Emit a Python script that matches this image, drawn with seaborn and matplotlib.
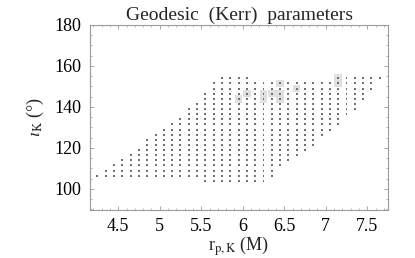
import numpy as np
import pandas as pd
import matplotlib
matplotlib.use("Agg")
import matplotlib.pyplot as plt
from matplotlib.ticker import MultipleLocator
import seaborn as sns

# ---- data: grid rows (inclination value, first and last r_p of each run of points)
seg_y = [104, 106.5, 109, 111.5, 114, 116.5, 119, 121.5, 124, 126.5, 129,
         131.5, 134, 136.5, 139, 141.5, 144, 146.5, 149, 151.5, 154, 154]
seg_start = [5.55, 4.25, 4.35, 4.45, 4.55, 4.65, 4.75, 4.85, 4.85, 4.95, 5.05,
             5.15, 5.25, 5.35, 5.35, 5.45, 5.55, 5.55, 5.65, 5.65, 5.75, 7.15]
seg_end = [6.25, 6.35, 6.35, 6.45, 6.55, 6.65, 6.75, 6.85, 6.85, 6.95, 7.05,
           7.15, 7.15, 7.25, 7.35, 7.35, 7.45, 7.45, 7.55, 7.55, 6.05, 7.65]
grid_step = 0.1

# highlighted grid points
hl_x = [7.15, 6.45, 7.15, 6.65, 6.05, 6.25, 6.35, 6.45, 5.95, 6.25, 6.45]
hl_y = [154, 151.5, 151.5, 149, 146.5, 146.5, 146.5, 146.5, 144, 144, 144]

x_ticks = [4.5, 5, 5.5, 6, 6.5, 7, 7.5]
x_ticklabels = ["4.5", "5", "5.5", "6", "6.5", "7", "7.5"]
y_ticks = [100, 120, 140, 160, 180]

# build point table
xs, ys = [], []
for y, a, b in zip(seg_y, seg_start, seg_end):
    n = int(round((b - a) / grid_step)) + 1
    for i in range(n):
        xs.append(round(a + i * grid_step, 3))
        ys.append(y)
pts = pd.DataFrame({"r": xs, "i": ys})
hl = pd.DataFrame({"r": hl_x, "i": hl_y})

sns.set_theme(style="white")
plt.rcParams["font.family"] = ["Liberation Serif", "DejaVu Serif"]
plt.rcParams["mathtext.fontset"] = "stix"

fig = plt.figure(figsize=(4.15, 2.58), dpi=100)
ax = fig.add_axes([90 / 415, 1 - 209.5 / 258, 298 / 415, 184.5 / 258])

sns.scatterplot(data=hl, x="r", y="i", marker="s", s=30, color="#e0e0e0",
                edgecolor="none", linewidth=0, ax=ax, zorder=1, legend=False)
sns.scatterplot(data=pts, x="r", y="i", marker="s", s=2.0, color="#707070",
                edgecolor="none", linewidth=0, ax=ax, zorder=2, legend=False)

ax.set_xlim(4.16, 7.75)
ax.set_ylim(90, 180)
ax.set_xticks(x_ticks)
ax.set_xticklabels(x_ticklabels)
ax.set_yticks(y_ticks)
ax.xaxis.set_minor_locator(MultipleLocator(0.1))
ax.yaxis.set_minor_locator(MultipleLocator(5))

for sp in ax.spines.values():
    sp.set_color("#9a9a9a")
    sp.set_linewidth(0.8)
ax.tick_params(which="both", direction="in", top=True, right=True,
               bottom=True, left=True, color="#9a9a9a", labelsize=13,
               labelcolor="black")
ax.tick_params(which="major", length=3, width=0.6, pad=6)
ax.tick_params(which="minor", length=1.5, width=0.5)

ax.set_title("Geodesic  (Kerr)  parameters", fontsize=14, pad=4)
ax.set_xlabel(r"r$_{\rm p,K}$ (M)", fontsize=13, labelpad=0)
ax.set_ylabel(r"$\iota_{\rm K}$ (°)", fontsize=13, labelpad=6)

fig.savefig("out.png", dpi=100)
